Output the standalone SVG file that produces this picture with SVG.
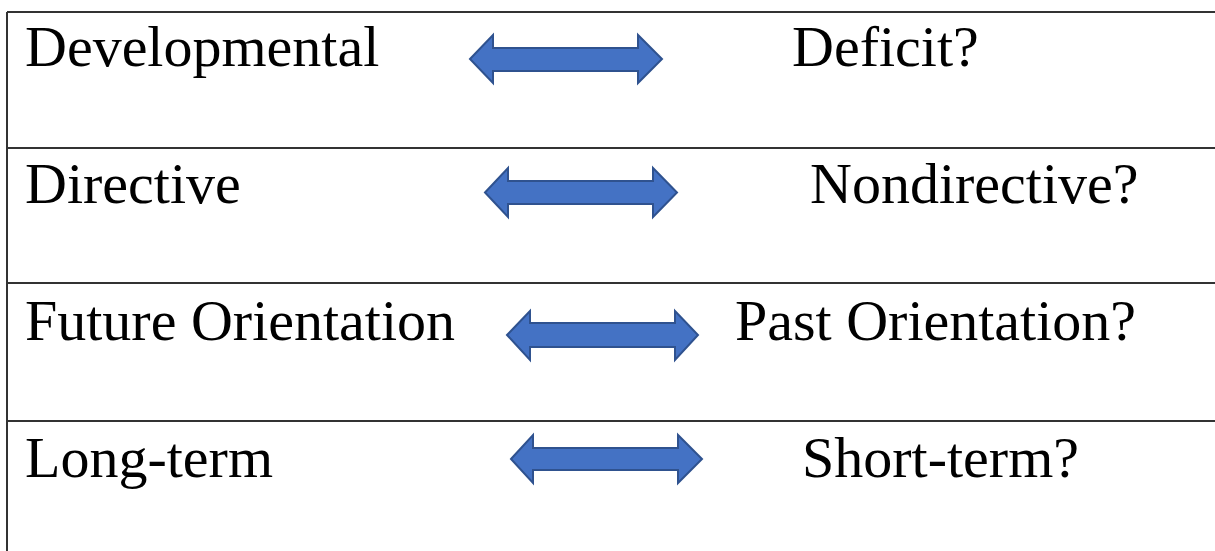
<svg xmlns="http://www.w3.org/2000/svg" width="1215" height="551" viewBox="0 0 1215 551">
<style>
.t{font-family:"Liberation Serif","Times New Roman",serif;font-size:58px;fill:#000}
.ln{stroke:#333;stroke-width:2;fill:none}
.ar{fill:#4472C4;stroke:#2F528F;stroke-width:2;stroke-linejoin:miter}
</style>
<rect width="1215" height="551" fill="#fff"/>
<g id="grid">
<line class="ln" x1="7" y1="12" x2="1215" y2="12"/>
<line class="ln" x1="7" y1="12" x2="7" y2="551"/>
<line class="ln" x1="7" y1="148" x2="1215" y2="148"/>
<line class="ln" x1="7" y1="283" x2="1215" y2="283"/>
<line class="ln" x1="7" y1="421" x2="1215" y2="421"/>
</g>
<g id="row1">
<text class="t" x="25" y="66">Developmental</text>
<text class="t" x="792" y="66">Deficit?</text>
</g>
<g id="row2">
<text class="t" x="25" y="203">Directive</text>
<text class="t" x="810" y="203">Nondirective?</text>
</g>
<g id="row3">
<text class="t" x="25" y="340">Future Orientation</text>
<text class="t" x="735" y="340">Past Orientation?</text>
</g>
<g id="row4">
<text class="t" x="25" y="477">Long-term</text>
<text class="t" x="802" y="477">Short-term?</text>
</g>
<g id="connectors">
<polygon class="ar" points="470,59 493,35 493,48 638,48 638,35 662,59 638,83 638,71 493,71 493,83"/>
<polygon class="ar" points="485,192.5 508,168 508,181 653,181 653,168 677,192.5 653,217 653,204 508,204 508,217"/>
<polygon class="ar" points="507,335 530,311 530,323 675,323 675,311 698,335 675,360 675,347 530,347 530,360"/>
<polygon class="ar" points="511,459 533,435 533,448 678,448 678,435 702,459 678,483 678,470 533,470 533,483"/>
</g>
</svg>
